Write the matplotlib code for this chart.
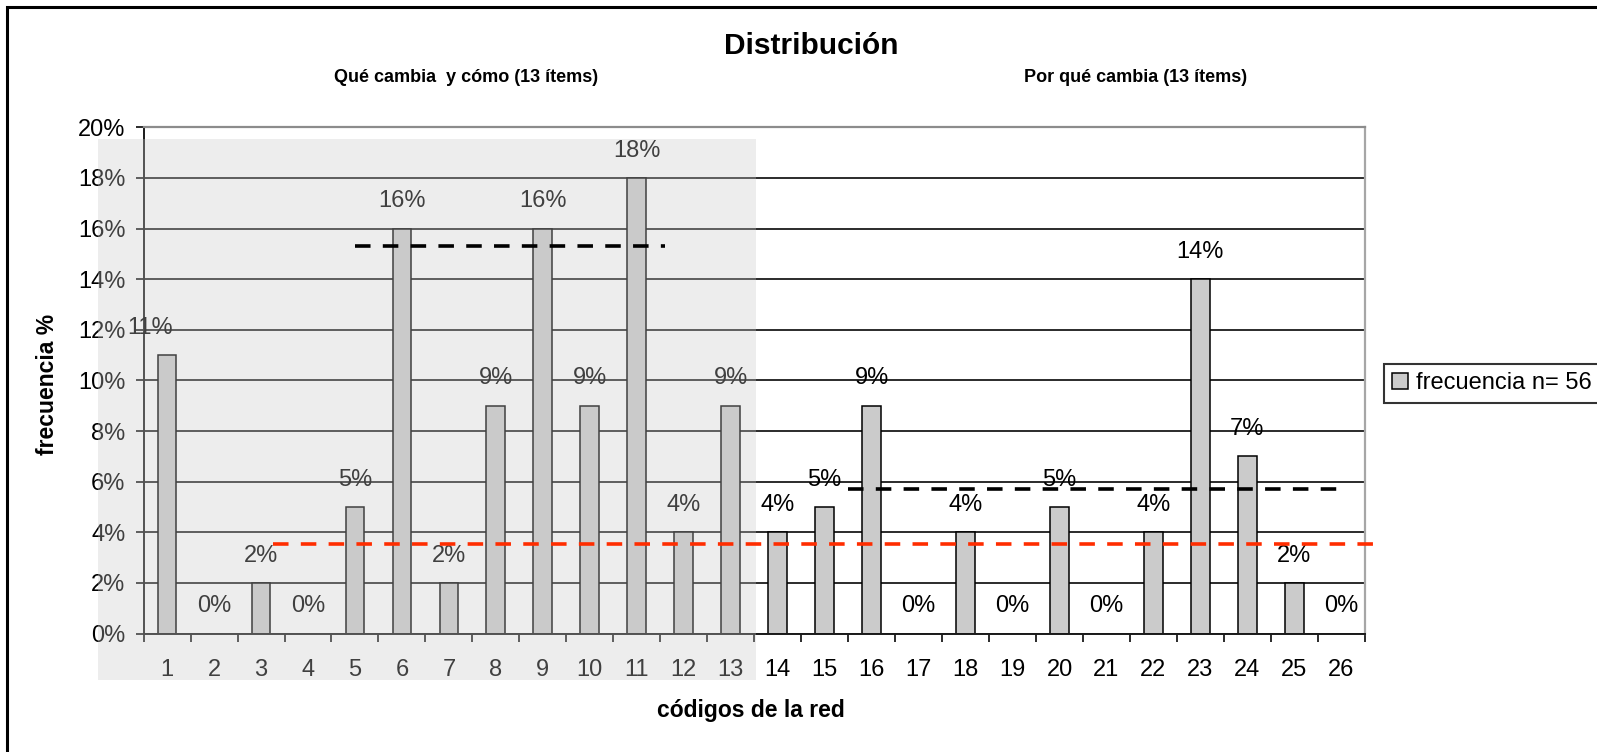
import matplotlib
matplotlib.use("Agg")
import matplotlib.pyplot as plt
from matplotlib.lines import Line2D
from matplotlib.patches import Rectangle

plt.rcParams['font.family'] = ['Liberation Sans', 'DejaVu Sans']

# frecuencia (%) por código de la red
codes = list(range(1, 27))
freq = [11, 0, 2, 0, 5, 16, 2, 9, 16, 9, 18, 4, 9,
        4, 5, 9, 0, 4, 0, 5, 0, 4, 14, 7, 2, 0]

# promedios dibujados como líneas discontinuas: (desde, hasta, valor)
avg_group1 = (5.0, 11.6, 15.3)
avg_group2 = (15.5, 26.1, 5.7)
avg_all = (3.26, 26.8, 3.55)

group1_title = "Qué cambia  y cómo (13 ítems)"
group2_title = "Por qué cambia (13 ítems)"
legend_label = "frecuencia n= 56"

W, H = 1597, 752
NUM_FS = 17

fig = plt.figure(figsize=(W / 100, H / 100), dpi=100)
fig.patch.set_facecolor('white')
ax = fig.add_axes([143.6 / W, 1 - 633.5 / H, (1364.8 - 143.6) / W, (633.5 - 127.3) / H])
ax.set_facecolor('none')

bars = ax.bar(codes, freq, width=0.4, color='#cbcbcb', edgecolor='black',
              linewidth=1.1, zorder=2, label=legend_label)

for i, (c, v) in enumerate(zip(codes, freq)):
    dx = -0.37 if i == 0 else 0
    ax.text(c + dx, v + 1.08, f"{v}%", ha='center', va='center', fontsize=NUM_FS,
            color='black', zorder=3)

ax.set_xlim(0.5, 26.5)
ax.set_ylim(0, 20)
ax.set_yticks(range(0, 21, 2))
ax.set_yticklabels([f"{t}%" for t in range(0, 21, 2)], fontsize=NUM_FS)
ax.set_xticks(codes)
ax.set_xticklabels([str(c) for c in codes], fontsize=NUM_FS)
ax.set_xticks([c - 0.5 for c in codes] + [26.5], minor=True)
ax.tick_params(axis='x', which='major', length=0, pad=18)
ax.tick_params(axis='x', which='minor', length=6, width=1.3, color='#1a1a1a',
               direction='out')
ax.tick_params(axis='y', length=6, width=1.3, color='#1a1a1a', pad=7)

ax.yaxis.grid(True, color='#1a1a1a', linewidth=1.3)
ax.set_axisbelow(True)
ax.spines['top'].set_color('#8c8c8c')
ax.spines['top'].set_linewidth(1.6)
ax.spines['right'].set_color('#a6a6a6')
ax.spines['right'].set_linewidth(1.6)
for s in ('left', 'bottom'):
    ax.spines[s].set_color('#1a1a1a')
    ax.spines[s].set_linewidth(1.4)

ax.set_xlabel("códigos de la red", fontsize=16.5, fontweight='bold')
ax.set_ylabel("frecuencia %", fontsize=16.5, fontweight='bold')
ax.xaxis.set_label_coords(751 / W, 1 - 710 / H, transform=fig.transFigure)
ax.yaxis.set_label_coords(48 / W, 1 - 384 / H, transform=fig.transFigure)
ax.xaxis.label.set_va('center')
ax.yaxis.label.set_va('center')

# sombreado translúcido sobre el primer bloque de códigos
fig.add_artist(Rectangle((98 / W, 1 - 680 / H), (756 - 98) / W, (680 - 139) / H,
                         transform=fig.transFigure, facecolor='#c9c9c9',
                         edgecolor='none', alpha=0.32, zorder=1))

# promedios
dash = (0, (4.3, 3.4))
for (x0, x1, y), col in ((avg_group1, 'black'), (avg_group2, 'black'), (avg_all, '#ff2d00')):
    fig.add_artist(Line2D([x0, x1], [y, y], transform=ax.transData, color=col,
                          linewidth=2.6, linestyle=dash, zorder=3))

fig.text(811 / W, 1 - 46 / H, "Distribución", ha='center', va='center',
         fontsize=21.5, fontweight='bold')
fig.text(466 / W, 1 - 77 / H, group1_title, ha='center', va='center',
         fontsize=13, fontweight='bold')
fig.text(1136 / W, 1 - 77 / H, group2_title, ha='center', va='center',
         fontsize=13, fontweight='bold')

leg = fig.legend(handles=[bars], labels=[legend_label], loc='upper left',
                 bbox_to_anchor=(1384 / W, 1 - 364 / H), borderaxespad=0,
                 fontsize=17, frameon=True, fancybox=False, handlelength=0.65,
                 handleheight=0.65, handletextpad=0.35, borderpad=0.35)
leg.get_frame().set_edgecolor('black')
leg.get_frame().set_linewidth(1.5)

# marco exterior del gráfico
fig.add_artist(Rectangle((7.3 / W, -0.5), 2, 0.5 + 1 - 7.3 / H,
                         transform=fig.transFigure, facecolor='none',
                         edgecolor='black', linewidth=2.2, zorder=0))

fig.savefig("out.png", dpi=100)
